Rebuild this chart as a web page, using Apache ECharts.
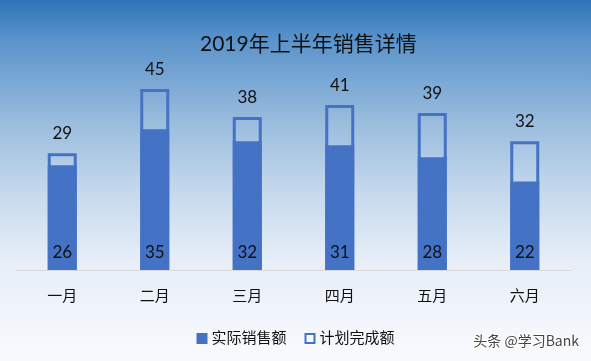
<!DOCTYPE html>
<html><head><meta charset="utf-8">
<script src="https://cdn.jsdelivr.net/npm/echarts@6/dist/echarts.min.js"></script>
<style>html,body{margin:0;padding:0;}#c{width:591px;height:361px;}</style>
</head><body><div id="c"></div>
<script>
var categories = ['一月','二月','三月','四月','五月','六月'];
var actual = [26, 35, 32, 31, 28, 22];
var planned = [29, 45, 38, 41, 39, 32];
var seriesNames = ['实际销售额', '计划完成额'];
var FONT = "Lato, 'Noto Sans CJK SC', sans-serif";
var BLUE = '#4472c4';
var chart = echarts.init(document.getElementById('c'));
chart.setOption({
  backgroundColor: new echarts.graphic.LinearGradient(0,0,0,1,[
    {offset:0,color:'#2e74b6'},
    {offset:0.11,color:'#5a93cb'},
    {offset:0.35,color:'#9dbedf'},
    {offset:0.55,color:'#c9dbee'},
    {offset:0.72,color:'#e7eef8'},
    {offset:1,color:'#f9fafd'}
  ]),
  animation:false,
  title:{text:'2019年上半年销售详情',left:195,top:29,textStyle:{fontFamily:FONT,fontSize:21,fontWeight:'normal',color:'#111'}},
  legend:{top:326,left:'center',itemWidth:9,itemHeight:9,itemGap:18,icon:'rect',
    textStyle:{fontFamily:FONT,fontSize:15,color:'#111'},data:seriesNames},
  grid:{left:16,right:20,top:70,bottom:91},
  xAxis:{type:'category',data:categories,axisTick:{show:false},
    axisLine:{lineStyle:{color:'#d9d9d9',width:1}},
    axisLabel:{fontFamily:FONT,fontSize:15,color:'#111',margin:19}},
  yAxis:{type:'value',min:0,max:49.7,show:false,splitLine:{show:false}},
  series:[
    {name:seriesNames[0],type:'bar',data:actual,barWidth:29,
      itemStyle:{color:BLUE,borderColor:BLUE,borderWidth:3},
      label:{show:true,position:'insideBottom',distance:9,fontFamily:FONT,fontSize:17,color:'#111'}},
    {name:seriesNames[1],type:'bar',data:planned,barWidth:29,barGap:'-100%',
      itemStyle:{color:'rgba(0,0,0,0)',borderColor:BLUE,borderWidth:3},
      label:{show:true,position:'top',distance:11,fontFamily:FONT,fontSize:17,color:'#111'}}
  ],
  graphic:[{type:'text',right:11,top:333,style:{text:'头条 @学习Bank',fontFamily:"'Noto Sans CJK SC', sans-serif",fontSize:14,fill:'#444',stroke:'#fff',lineWidth:2}}]
});
</script></body></html>
